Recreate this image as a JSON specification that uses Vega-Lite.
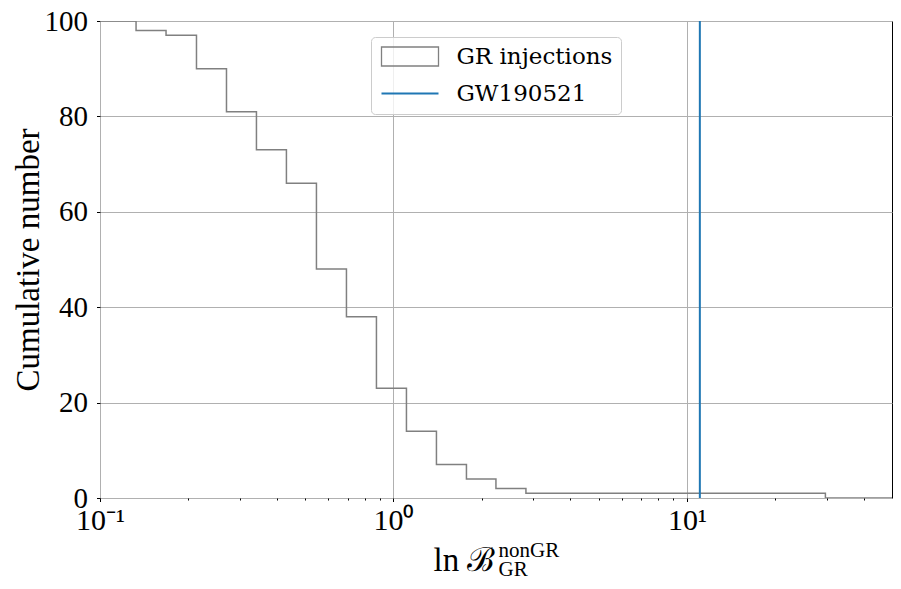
{
  "$schema": "https://vega.github.io/schema/vega-lite/v6.json",
  "autosize": "none",
  "padding": {"left": 100, "top": 21, "right": 9, "bottom": 91},
  "width": 792,
  "height": 477,
  "config": {
    "view": {"stroke": "black", "strokeWidth": 1},
    "font": "Liberation Serif",
    "axis": {
      "labelFont": "Liberation Serif",
      "titleFont": "Liberation Serif",
      "labelColor": "black",
      "titleColor": "black",
      "tickColor": "black",
      "tickWidth": 1,
      "domain": false,
      "gridColor": "#b0b0b0",
      "gridWidth": 1,
      "gridOpacity": 1,
      "titleFontWeight": "normal"
    },
    "legend": {
      "labelFont": "DejaVu Serif",
      "labelFontSize": 23,
      "labelColor": "black"
    }
  },
  "layer": [
    {
      "data": {
        "values": [
          {"x": 0.1, "n": 100, "series": "GR injections"},
          {"x": 0.1327, "n": 98, "series": "GR injections"},
          {"x": 0.1679, "n": 97, "series": "GR injections"},
          {"x": 0.2132, "n": 90, "series": "GR injections"},
          {"x": 0.2698, "n": 81, "series": "GR injections"},
          {"x": 0.3413, "n": 73, "series": "GR injections"},
          {"x": 0.4318, "n": 66, "series": "GR injections"},
          {"x": 0.5465, "n": 48, "series": "GR injections"},
          {"x": 0.6916, "n": 38, "series": "GR injections"},
          {"x": 0.8751, "n": 23, "series": "GR injections"},
          {"x": 1.1074, "n": 14, "series": "GR injections"},
          {"x": 1.4013, "n": 7, "series": "GR injections"},
          {"x": 1.7733, "n": 4, "series": "GR injections"},
          {"x": 2.235, "n": 2, "series": "GR injections"},
          {"x": 2.828, "n": 1, "series": "GR injections"},
          {"x": 29.65, "n": 0, "series": "GR injections"},
          {"x": 50, "n": 0, "series": "GR injections"}
        ]
      },
      "mark": {"type": "line", "interpolate": "step-after", "strokeWidth": 1.5, "clip": true},
      "encoding": {
        "x": {
          "field": "x",
          "type": "quantitative",
          "scale": {"type": "log", "domain": [0.1, 50], "nice": false},
          "axis": {
            "orient": "bottom",
            "values": [0.1, 1, 10],
            "labelExpr": "datum.value < 0.5 ? '10⁻¹' : datum.value < 5 ? '10⁰' : '10¹'",
            "labelFontSize": 30,
            "labelBaseline": "alphabetic",
            "labelPadding": 28,
            "labelFlush": false,
            "labelOverlap": false,
            "tickSize": 3.5,
            "grid": true,
            "title": "ln ℬ",
            "titleFontSize": 33,
            "titleAlign": "left",
            "titleBaseline": "alphabetic",
            "titleX": 333,
            "titleY": 72
          }
        },
        "y": {
          "field": "n",
          "type": "quantitative",
          "scale": {"domain": [0, 100], "nice": false},
          "axis": {
            "values": [0, 20, 40, 60, 80, 100],
            "labelFontSize": 29,
            "labelPadding": 9,
            "tickSize": 3.5,
            "grid": true,
            "title": "Cumulative number",
            "titleFontSize": 33,
            "titleAngle": -90,
            "titleAlign": "center",
            "titleBaseline": "alphabetic",
            "titleX": -62,
            "titleY": 238.5
          }
        },
        "color": {
          "field": "series",
          "type": "nominal",
          "scale": {"domain": ["GR injections", "GW190521"], "range": ["#808080", "#1f77b4"]},
          "legend": {
            "orient": "none",
            "legendX": 271,
            "legendY": 16,
            "title": null,
            "padding": 8,
            "cornerRadius": 4,
            "strokeColor": "#cccccc",
            "fillColor": "rgba(255,255,255,0.8)",
            "symbolSize": 400,
            "symbolStrokeWidth": 1.3,
            "symbolOffset": 19.5,
            "labelOffset": 35,
            "rowPadding": 13,
            "encode": {
              "symbols": {
                "update": {
                  "shape": {"signal": "datum.value === 'GR injections' ? 'M-2.85,-0.95H2.85V0.95H-2.85Z' : 'M-2.85,0H2.85'"},
                  "strokeWidth": {"signal": "datum.value === 'GR injections' ? 1.3 : 2"},
                  "fill": {"value": "transparent"}
                }
              }
            }
          }
        }
      }
    },
    {
      "data": {"values": [{"x": 11.07, "series": "GW190521"}]},
      "mark": {"type": "rule", "strokeWidth": 2},
      "encoding": {
        "x": {
          "field": "x",
          "type": "quantitative",
          "axis": {
            "orient": "bottom",
            "values": [0.2, 0.3, 0.4, 0.5, 0.6, 0.7, 0.8, 0.9, 2, 3, 4, 5, 6, 7, 8, 9, 20, 30, 40],
            "labels": false,
            "grid": false,
            "tickSize": 2,
            "title": ["nonGR", " GR"],
            "titleFontSize": 21,
            "titleAlign": "left",
            "titleBaseline": "alphabetic",
            "titleLineHeight": 19,
            "titleX": 398,
            "titleY": 58
          }
        },
        "color": {"field": "series", "type": "nominal"}
      }
    }
  ],
  "resolve": {"axis": {"x": "independent"}}
}
